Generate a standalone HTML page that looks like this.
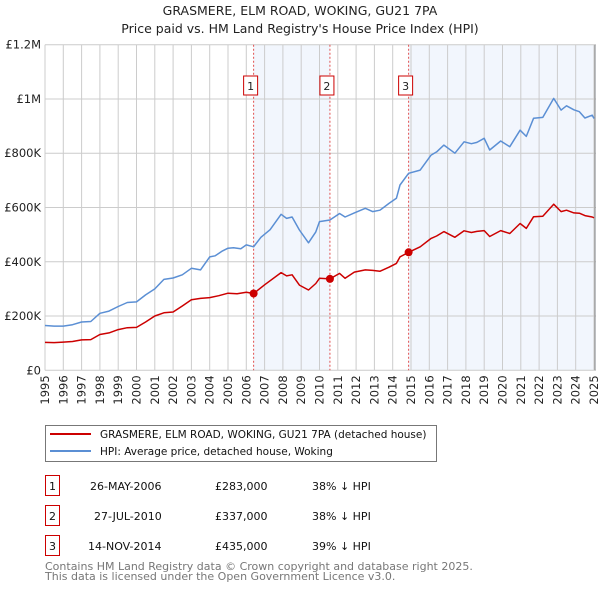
<!DOCTYPE html>
<html><head><meta charset="utf-8"><style>
body{margin:0;background:#fff;font-family:"DejaVu Sans","Liberation Sans",sans-serif;}
svg text{font-family:"DejaVu Sans","Liberation Sans",sans-serif;}
</style></head><body>
<svg id="chart" width="600" height="590" xmlns="http://www.w3.org/2000/svg">
<text x="300" y="15" text-anchor="middle" font-size="12.5" fill="#222">GRASMERE, ELM ROAD, WOKING, GU21 7PA</text>
<text x="300" y="33" text-anchor="middle" font-size="12.5" fill="#222">Price paid vs. HM Land Registry's House Price Index (HPI)</text>
<g id="plot"></g>
<g>
<rect x="45.5" y="425.5" width="391" height="36" fill="#fff" stroke="#777"/>
<line x1="50" y1="434" x2="91" y2="434" stroke="#cc0000" stroke-width="2"/>
<text x="100" y="438" font-size="10.5" fill="#111">GRASMERE, ELM ROAD, WOKING, GU21 7PA (detached house)</text>
<line x1="50" y1="451" x2="91" y2="451" stroke="#5b8fd4" stroke-width="2"/>
<text x="100" y="455" font-size="10.5" fill="#111">HPI: Average price, detached house, Woking</text>
</g>
<g font-size="11" fill="#111">
<rect x="45.5" y="475.5" width="14" height="20" fill="#fff" stroke="#cc0000"/><text x="52.5" y="490" text-anchor="middle">1</text>
<text x="90" y="490">26-MAY-2006</text><text x="215" y="490">£283,000</text><text x="312" y="490">38% ↓ HPI</text>
<rect x="45.5" y="505.5" width="14" height="20" fill="#fff" stroke="#cc0000"/><text x="52.5" y="520" text-anchor="middle">2</text>
<text x="94" y="520">27-JUL-2010</text><text x="215" y="520">£337,000</text><text x="312" y="520">38% ↓ HPI</text>
<rect x="45.5" y="535.5" width="14" height="20" fill="#fff" stroke="#cc0000"/><text x="52.5" y="550" text-anchor="middle">3</text>
<text x="88" y="550">14-NOV-2014</text><text x="215" y="550">£435,000</text><text x="312" y="550">39% ↓ HPI</text>
</g>
<text x="45" y="570" font-size="11" fill="#777">Contains HM Land Registry data © Crown copyright and database right 2025.</text>
<text x="45" y="580" font-size="11" fill="#777">This data is licensed under the Open Government Licence v3.0.</text>
</svg>
<script>
const yearTicks=[1995,1996,1997,1998,1999,2000,2001,2002,2003,2004,2005,2006,2007,2008,2009,2010,2011,2012,2013,2014,2015,2016,2017,2018,2019,2020,2021,2022,2023,2024,2025];
const valueTicks=[0,200000,400000,600000,800000,1000000,1200000];
const valueTickLabels=["£0","£200K","£400K","£600K","£800K","£1M","£1.2M"];
const hpiYears=[1995,1995.5,1996,1996.5,1997,1997.5,1998,1998.5,1999,1999.5,2000,2000.5,2001,2001.5,2002,2002.5,2003,2003.5,2004,2004.3,2004.7,2005,2005.3,2005.7,2006,2006.4,2006.8,2007.3,2007.9,2008.2,2008.5,2008.9,2009.4,2009.8,2010.0,2010.57,2011.1,2011.4,2011.9,2012.5,2012.9,2013.3,2013.8,2014.2,2014.4,2014.87,2015.5,2016.1,2016.4,2016.8,2017.4,2017.9,2018.3,2018.6,2019.0,2019.3,2019.9,2020.4,2020.96,2021.3,2021.7,2022.2,2022.8,2023.2,2023.5,2023.9,2024.2,2024.5,2024.9,2025.0];
const hpiValues=[165000,163000,163000,168000,178000,180000,210000,218000,235000,250000,252000,278000,300000,335000,340000,352000,376000,370000,418000,422000,440000,450000,452000,448000,462000,455000,490000,518000,575000,560000,565000,517000,470000,510000,548000,554000,578000,565000,580000,597000,585000,590000,615000,634000,683000,726000,738000,793000,805000,830000,800000,842000,835000,840000,855000,812000,845000,824000,885000,862000,929000,932000,1002000,959000,975000,960000,953000,930000,940000,928000];
const ppYears=[1995,1995.5,1996,1996.5,1997,1997.5,1998,1998.5,1999,1999.5,2000,2000.5,2001,2001.5,2002,2002.5,2003,2003.5,2004,2004.5,2005,2005.5,2006,2006.4,2007,2007.9,2008.2,2008.5,2008.9,2009.4,2009.8,2010.0,2010.57,2011.1,2011.4,2011.9,2012.5,2012.9,2013.3,2013.8,2014.2,2014.4,2014.87,2015.5,2016.1,2016.4,2016.8,2017.4,2017.9,2018.3,2018.6,2019.0,2019.3,2019.9,2020.4,2020.96,2021.3,2021.7,2022.2,2022.8,2023.2,2023.5,2023.9,2024.2,2024.5,2024.9,2025.0];
const ppValues=[103000,102000,104000,106000,112000,113000,132000,138000,150000,157000,158000,178000,200000,212000,215000,237000,260000,265000,268000,275000,284000,282000,288000,283000,315000,360000,348000,352000,314000,296000,320000,339000,337000,357000,339000,362000,370000,368000,365000,380000,394000,418000,435000,455000,486000,495000,511000,490000,514000,508000,512000,515000,493000,515000,504000,541000,523000,566000,568000,612000,585000,590000,580000,579000,570000,565000,562000];
const saleYears=[2006.4,2010.57,2014.87];
const saleValues=[283000,337000,435000];
const saleLabels=["1","2","3"];
const X0=45,X1=594,Y0=370.3,Y1=44.7,XMIN=1995,XMAX=2025,VMAX=1200000;
const xs=y=>X0+(y-XMIN)/(XMAX-XMIN)*(X1-X0);
const ys=v=>Y0-v/VMAX*(Y0-Y1);
const NS="http://www.w3.org/2000/svg";
const g=document.getElementById('plot');
function mk(tag,attrs){const e=document.createElementNS(NS,tag);for(const k in attrs)e.setAttribute(k,attrs[k]);g.appendChild(e);return e;}
let s1=mk('rect',{x:xs(saleYears[0]),y:Y1,width:xs(saleYears[1])-xs(saleYears[0]),height:Y0-Y1,fill:'#eef3fc',opacity:0.75});


let s2=mk('rect',{x:xs(saleYears[2]),y:Y1,width:X1+2-xs(saleYears[2]),height:Y0-Y1,fill:'#eef3fc',opacity:0.75});


yearTicks.forEach(t=>{
 let l=mk('line',{x1:xs(t),x2:xs(t),y1:Y1,y2:Y0,stroke:'#cccccc','stroke-width':1});
 
 
 let tx=mk('text',{x:0,y:0,'font-size':11.5,fill:'#222','text-anchor':'end',transform:`translate(${xs(t)+4},${Y0+5}) rotate(-90)`});
 tx.textContent=t;
 
 
});
valueTicks.forEach((v,i)=>{
 let l=mk('line',{x1:X0,x2:X1+2,y1:ys(v),y2:ys(v),stroke:'#cccccc','stroke-width':1});
 
 
 let tx=mk('text',{x:X0-4,y:ys(v)+4,'font-size':11.5,fill:'#222','text-anchor':'end'});
 tx.textContent=valueTickLabels[i];
 
 
});
let rb=mk('line',{x1:X1+1,x2:X1+1,y1:Y1,y2:Y0,stroke:'#888','stroke-width':1});


saleYears.forEach((y,i)=>{
 let l=mk('line',{x1:xs(y),x2:xs(y),y1:Y1,y2:Y0,stroke:'#e05050','stroke-width':1,'stroke-dasharray':'2,2'});
 
 
 let r=mk('rect',{x:xs(y)-10,y:76,width:14,height:19,fill:'#fff',stroke:'#cc0000'});
 
 
 let t=mk('text',{x:xs(y)-3,y:90,'font-size':11,fill:'#222','text-anchor':'middle'});
 t.textContent=saleLabels[i];
 
 
});
function path(xa,va,col,name){
 let d=xa.map((x,i)=>(i?'L':'M')+xs(x).toFixed(1)+','+ys(va[i]).toFixed(1)).join('');
 let p=mk('path',{d:d,fill:'none',stroke:col,'stroke-width':1.5,'stroke-linejoin':'round'});
 
 
}
path(hpiYears,hpiValues,'#5b8fd4','hpi-line');
path(ppYears,ppValues,'#cc0000','property-price-line');
saleYears.forEach((y,i)=>{
 let c=mk('circle',{cx:xs(y),cy:ys(saleValues[i]),r:4,fill:'#cc0000'});
 
 
});
</script>
</body></html>
